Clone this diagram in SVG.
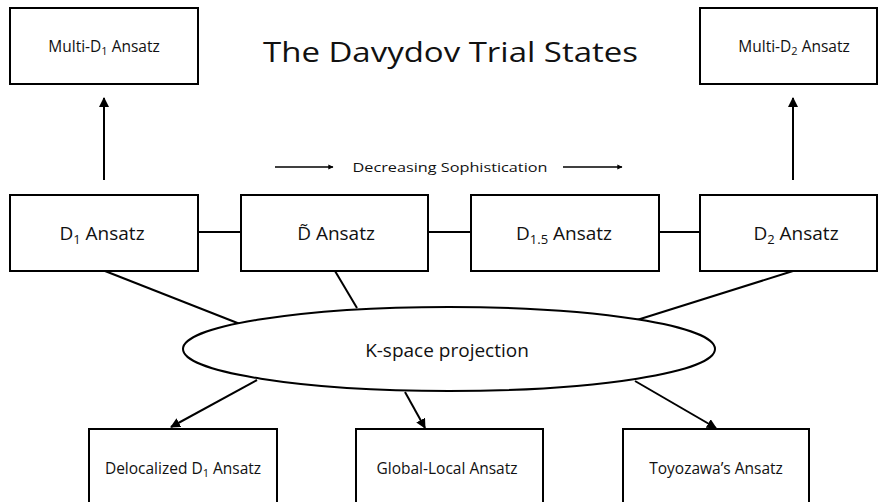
<svg xmlns="http://www.w3.org/2000/svg" width="879" height="502" viewBox="0 0 879 502">
<style>
.box{fill:#fff;stroke:#000;stroke-width:2}
.ln{stroke:#000;stroke-width:2;fill:none}
.thin{stroke:#000;stroke-width:1.3;fill:none}
text{font-family:"Open Sans","Liberation Sans",sans-serif;fill:#111;text-anchor:middle}
.big{font-size:19px}
.sm{font-size:15.5px}
.title{font-size:28px;text-anchor:start}
</style>
<defs>
<marker id="ah" viewBox="0 0 10 10" refX="9" refY="5" markerWidth="5" markerHeight="5" markerUnits="strokeWidth" orient="auto">
<path d="M0,0 L10,5 L0,10 z" fill="#000"/>
</marker>
<marker id="ahs" viewBox="0 0 10 10" refX="9" refY="5" markerWidth="5" markerHeight="4" markerUnits="strokeWidth" orient="auto">
<path d="M0,0 L10,5 L0,10 z" fill="#000"/>
</marker>
</defs>
<rect width="879" height="502" fill="#fff"/>
<text class="title" x="263" y="62" textLength="375" lengthAdjust="spacingAndGlyphs">The Davydov Trial States</text>
<g id="connectors">
<line class="ln" x1="104" y1="180" x2="104" y2="98" marker-end="url(#ah)"/>
<line class="ln" x1="793" y1="180" x2="793" y2="98" marker-end="url(#ah)"/>
<line class="ln" x1="198" y1="232" x2="241" y2="232"/>
<line class="ln" x1="428" y1="232" x2="471" y2="232"/>
<line class="ln" x1="659" y1="232" x2="700" y2="232"/>
<line class="ln" x1="105" y1="271" x2="240" y2="324"/>
<line class="ln" x1="335" y1="271" x2="357" y2="308"/>
<line class="ln" x1="793" y1="271" x2="637" y2="320"/>
<line class="ln" x1="257" y1="380" x2="171" y2="427" marker-end="url(#ah)"/>
<line class="ln" x1="405" y1="392" x2="425" y2="428" marker-end="url(#ah)"/>
<line class="ln" x1="635" y1="381" x2="716" y2="428" marker-end="url(#ah)"/>
<line class="thin" x1="275" y1="167" x2="333" y2="167" marker-end="url(#ahs)"/>
<line class="thin" x1="563" y1="167" x2="622" y2="167" marker-end="url(#ahs)"/>
</g>
<text x="450" y="172" style="font-size:13.5px" textLength="195" lengthAdjust="spacingAndGlyphs">Decreasing  Sophistication</text>
<g id="multiD1"><rect class="box" x="10" y="8" width="188" height="76"/><text class="sm" x="104" y="52">Multi-D<tspan font-size="11" dy="3">1</tspan><tspan dy="-3"> Ansatz</tspan></text></g>
<g id="multiD2"><rect class="box" x="700" y="8" width="177" height="76"/><text class="sm" x="794" y="52">Multi-D<tspan font-size="11" dy="3">2</tspan><tspan dy="-3"> Ansatz</tspan></text></g>
<g id="D1"><rect class="box" x="10" y="195" width="188" height="76"/><text class="big" x="102" y="240">D<tspan font-size="13" dy="4">1</tspan><tspan dy="-4"> Ansatz</tspan></text></g>
<g id="Dtilde"><rect class="box" x="241" y="195" width="187" height="76"/><text class="big" x="336" y="240">D̃ Ansatz</text></g>
<g id="D15"><rect class="box" x="471" y="195" width="188" height="76"/><text class="big" x="564" y="240">D<tspan font-size="13" dy="4">1.5</tspan><tspan dy="-4"> Ansatz</tspan></text></g>
<g id="D2"><rect class="box" x="700" y="195" width="177" height="76"/><text class="big" x="796" y="240">D<tspan font-size="13" dy="4">2</tspan><tspan dy="-4"> Ansatz</tspan></text></g>
<g id="kspace"><ellipse class="box" cx="449" cy="349" rx="266" ry="42"/><text class="big" x="447" y="357">K-space projection</text></g>
<g id="deloc"><rect class="box" x="89" y="429" width="188" height="80"/><text class="sm" x="183" y="474">Delocalized D<tspan font-size="11" dy="3">1</tspan><tspan dy="-3"> Ansatz</tspan></text></g>
<g id="global"><rect class="box" x="356" y="429" width="187" height="80"/><text class="sm" x="447" y="474">Global-Local Ansatz</text></g>
<g id="toyo"><rect class="box" x="623" y="429" width="186" height="80"/><text class="sm" x="716" y="474">Toyozawa’s Ansatz</text></g>
</svg>
